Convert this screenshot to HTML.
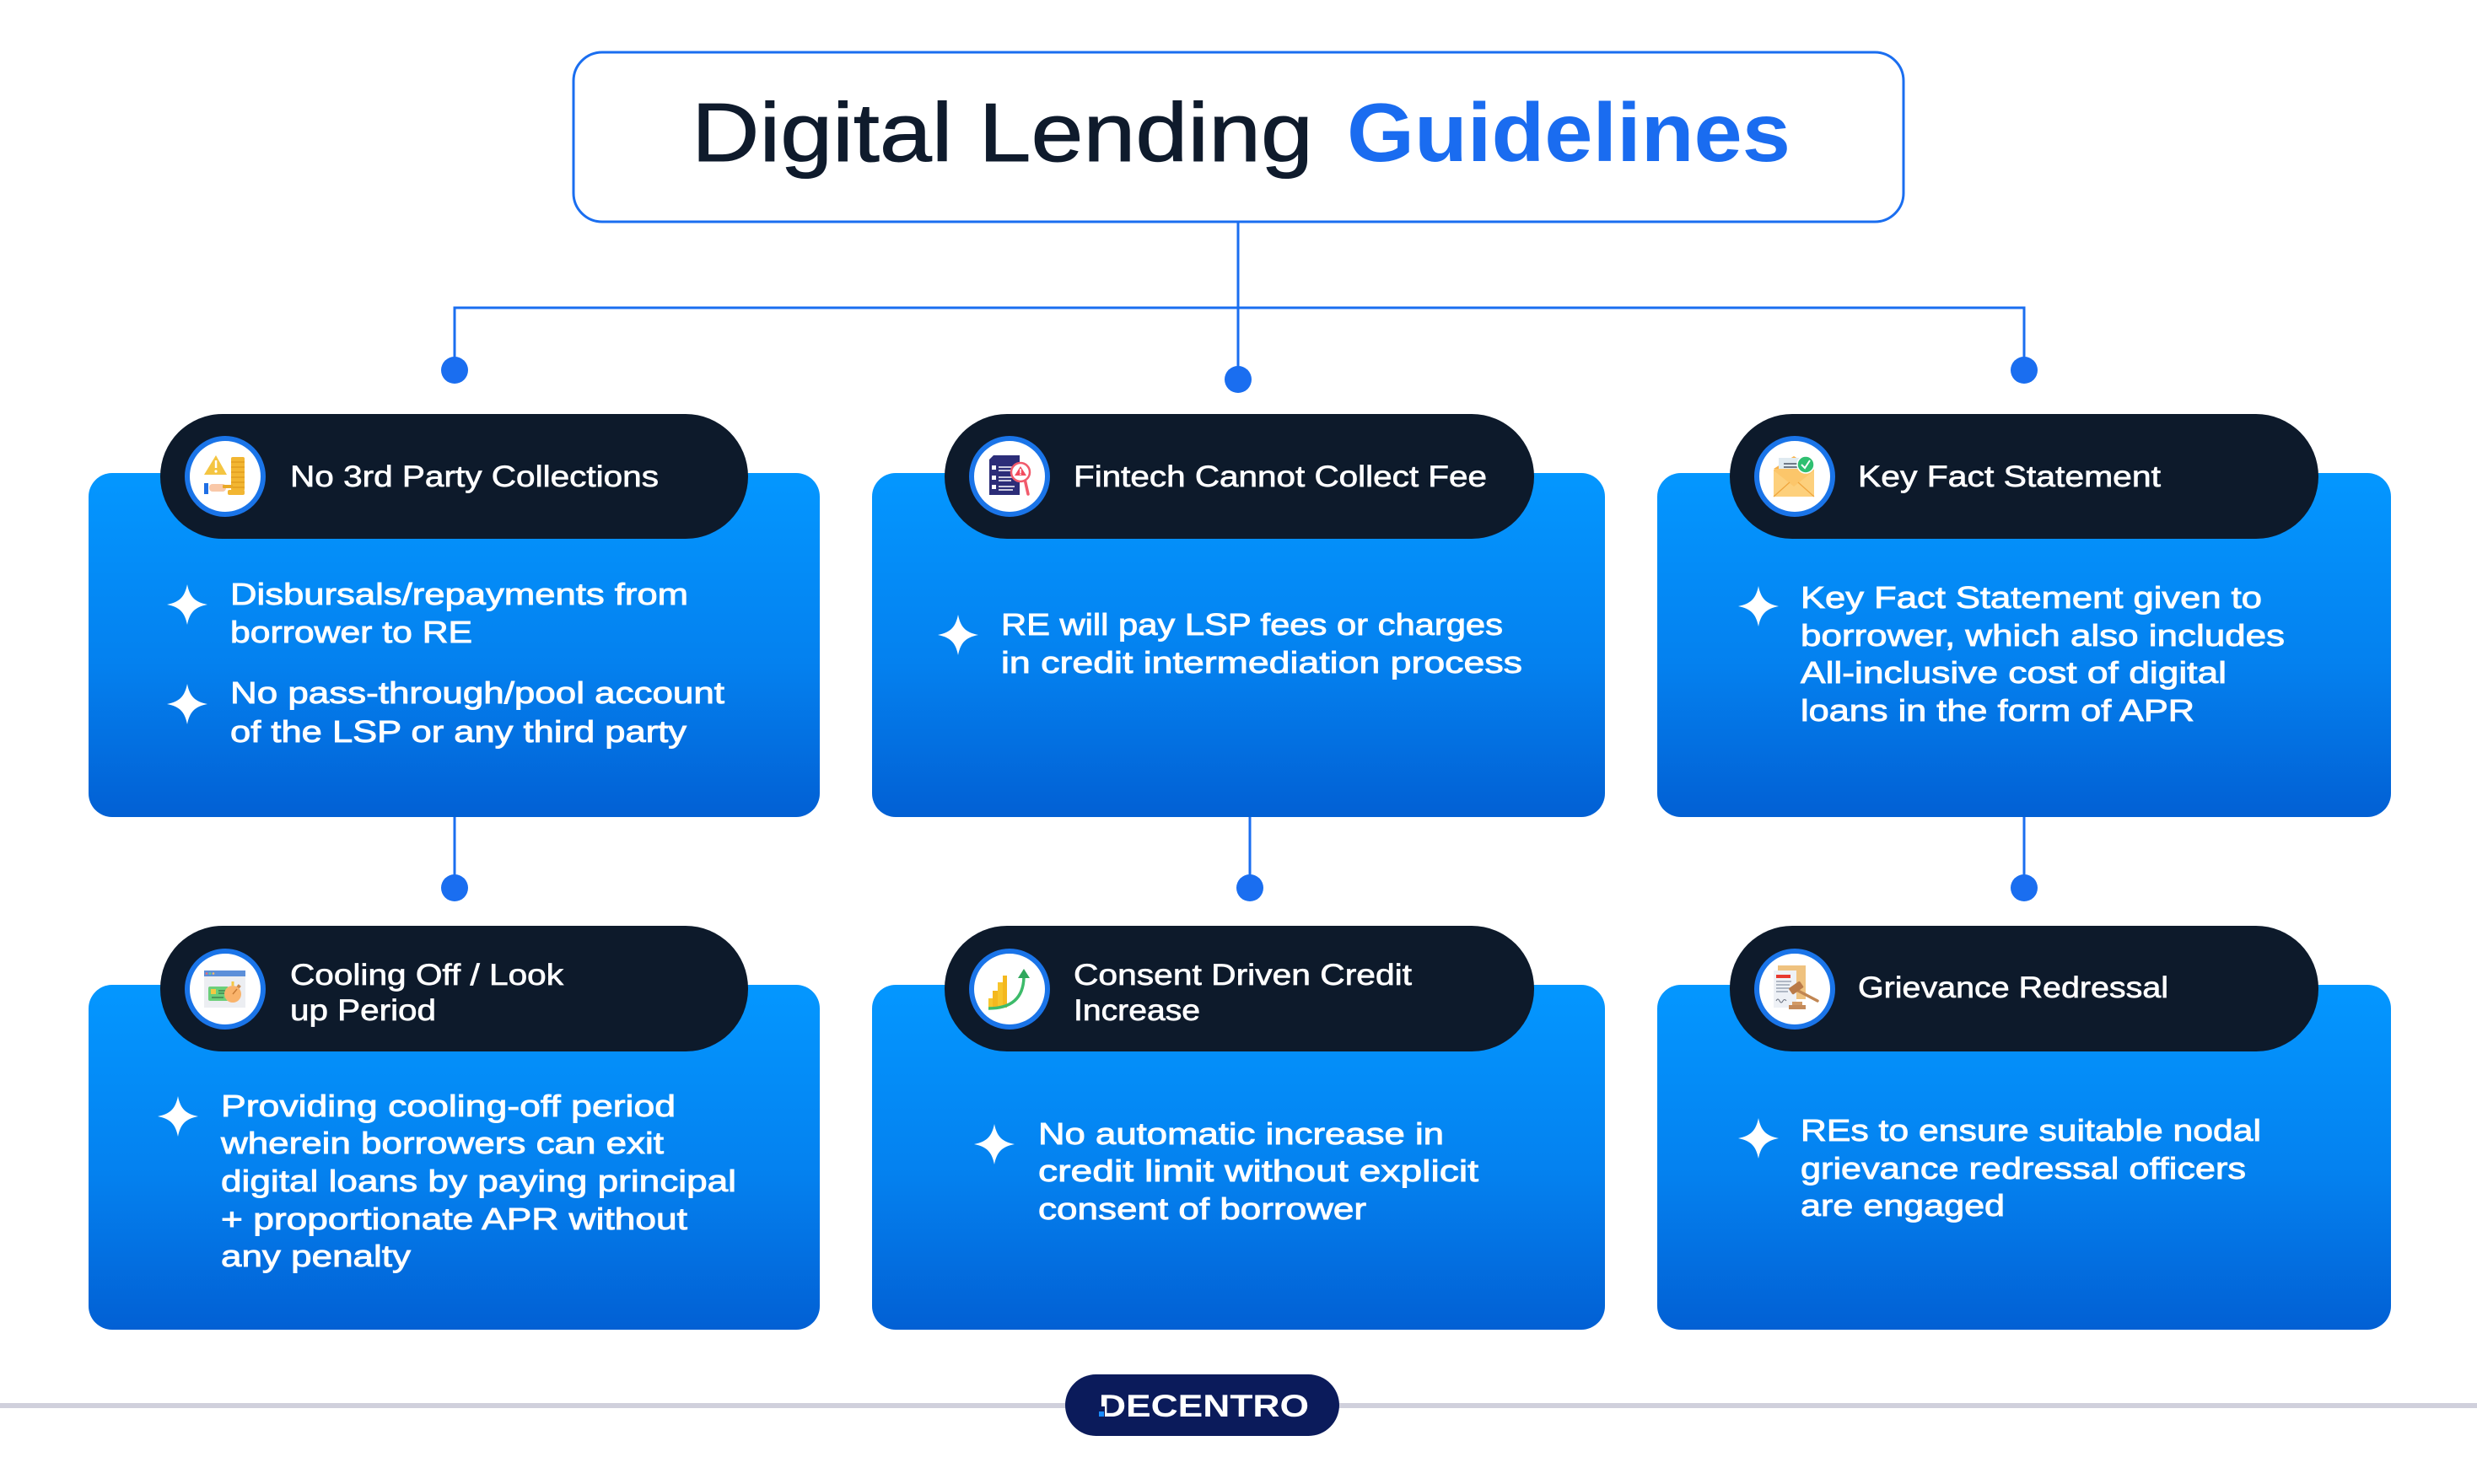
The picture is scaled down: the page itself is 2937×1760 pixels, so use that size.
<!DOCTYPE html>
<html>
<head>
<meta charset="utf-8">
<style>
html,body{margin:0;padding:0;background:#fff;}
svg{display:block;}
.t{font-family:"Liberation Sans",sans-serif;}
.body{font-size:36px;fill:#fff;stroke:#fff;stroke-width:0.9px;}
.pill{font-size:35px;fill:#fff;stroke:#fff;stroke-width:0.7px;}
</style>
</head>
<body>
<svg width="2937" height="1760" viewBox="0 0 2937 1760" xmlns="http://www.w3.org/2000/svg">
<defs>
<linearGradient id="cg" x1="0" y1="0" x2="0" y2="1">
<stop offset="0" stop-color="#0497ff"/>
<stop offset="0.55" stop-color="#0481ef"/>
<stop offset="1" stop-color="#0260d4"/>
</linearGradient>
</defs>
<rect width="2937" height="1760" fill="#fff"/>

<!-- Title -->
<rect x="680" y="62" width="1577" height="201" rx="34" fill="#fff" stroke="#1a6ef0" stroke-width="3"/>
<text class="t" x="820" y="191" font-size="98" fill="#0f1b2c" stroke="#0f1b2c" stroke-width="1" textLength="737" lengthAdjust="spacingAndGlyphs">Digital Lending</text>
<text class="t" x="1597" y="191" font-size="98" font-weight="bold" fill="#1a6cf0" textLength="526" lengthAdjust="spacingAndGlyphs">Guidelines</text>

<!-- Connectors -->
<g stroke="#1a6ef0" stroke-width="3" fill="none">
<path d="M1468,263 V450"/>
<path d="M539,439 V365 H2400 V439"/>
<path d="M539,969 V1053"/>
<path d="M1482,969 V1053"/>
<path d="M2400,969 V1053"/>
</g>
<g fill="#1a6ef0">
<circle cx="539" cy="439" r="16"/>
<circle cx="1468" cy="450" r="16"/>
<circle cx="2400" cy="439" r="16"/>
<circle cx="539" cy="1053" r="16"/>
<circle cx="1482" cy="1053" r="16"/>
<circle cx="2400" cy="1053" r="16"/>
</g>

<!-- Cards -->
<rect x="105" y="561" width="867" height="408" rx="28" fill="url(#cg)"/>
<rect x="1034" y="561" width="869" height="408" rx="28" fill="url(#cg)"/>
<rect x="1965" y="561" width="870" height="408" rx="28" fill="url(#cg)"/>
<rect x="105" y="1168" width="867" height="409" rx="28" fill="url(#cg)"/>
<rect x="1034" y="1168" width="869" height="409" rx="28" fill="url(#cg)"/>
<rect x="1965" y="1168" width="870" height="409" rx="28" fill="url(#cg)"/>

<!-- Pills -->
<g fill="#0d1a2b">
<rect x="190" y="491" width="697" height="148" rx="74"/>
<rect x="1120" y="491" width="699" height="148" rx="74"/>
<rect x="2051" y="491" width="698" height="148" rx="74"/>
<rect x="190" y="1098" width="697" height="149" rx="74"/>
<rect x="1120" y="1098" width="699" height="149" rx="74"/>
<rect x="2051" y="1098" width="698" height="149" rx="74"/>
</g>

<!-- Icon circles -->
<g fill="#fff" stroke="#1a74e8" stroke-width="6">
<circle cx="267" cy="565" r="45"/>
<circle cx="1197" cy="565" r="45"/>
<circle cx="2128" cy="565" r="45"/>
<circle cx="267" cy="1173" r="45"/>
<circle cx="1197" cy="1173" r="45"/>
<circle cx="2128" cy="1173" r="45"/>
</g>

<!-- Icon 1: warning + coins + hand -->
<g transform="translate(267,565)">
<polygon points="-11,-25 -25,-2 2,-2" fill="#f4c542"/>
<rect x="-12.2" y="-19" width="2.5" height="9" fill="#fff"/>
<circle cx="-11" cy="-6" r="1.6" fill="#fff"/>
<rect x="7" y="-23" width="16" height="40" rx="2" fill="#f2b632"/>
<g stroke="#e09a1c" stroke-width="1.2"><path d="M7,-17H23M7,-11H23M7,-5H23M7,1H23M7,7H23M7,13H23"/></g>
<rect x="3" y="16" width="20" height="6" rx="2" fill="#f2b632"/>
<rect x="-19" y="9" width="20" height="9" rx="4" fill="#f9c8a8"/>
<rect x="-3" y="10" width="12" height="4" rx="1" fill="#e9a825"/>
<rect x="-25" y="8" width="5" height="13" fill="#1f6fe5"/>
</g>

<!-- Icon 2: document + magnifier -->
<g transform="translate(1197,565)">
<path d="M-24,-20 L-19,-25 L12,-25 L12,22 L-24,22 Z" fill="#2c2d78"/>
<g fill="#fff"><rect x="-21" y="-13" width="5" height="5"/><rect x="-21" y="-1" width="5" height="5"/><rect x="-21" y="10" width="5" height="5"/></g>
<g stroke="#fff" stroke-width="1.6"><path d="M-13,-11H6M-13,-7H2M-13,1H4M-13,5H2M-13,12H6M-13,16H4"/></g>
<path d="M18,3 L22,21" stroke="#f15a6b" stroke-width="3.5" stroke-linecap="round"/>
<circle cx="13" cy="-5" r="11" fill="#fff" stroke="#f15a6b" stroke-width="2.5"/>
<polygon points="13,-12 6,-1 20,-1" fill="#f24b5e"/>
<rect x="12.2" y="-9" width="1.6" height="5" fill="#fff"/>
<circle cx="13" cy="-2.6" r="0.9" fill="#fff"/>
</g>

<!-- Icon 3: envelope -->
<g transform="translate(2128,565)">
<polygon points="-25,-9 -1,-24 23,-9" fill="#f8b24a"/>
<rect x="-19" y="-22" width="30" height="25" fill="#dfeaf0"/>
<g stroke="#4b5563" stroke-width="1.5"><path d="M-13,-15H5M-13,-11H5M-13,-7H3"/></g>
<rect x="-25" y="-9" width="48" height="33" rx="2" fill="#fcc66a"/>
<path d="M-25,-7 L-1,12 L23,-7 L23,24 L-25,24 Z" fill="#fdd07c"/>
<path d="M-25,24 L-6,7 M23,24 L4,7" stroke="#f0a53c" stroke-width="1.2" fill="none"/>
<circle cx="13" cy="-14" r="10" fill="#2fbf71" stroke="#fff" stroke-width="1.5"/>
<path d="M8,-14 L12,-10 L18,-19" stroke="#fff" stroke-width="2" fill="none"/>
</g>

<!-- Icon 4: browser + card + stopwatch -->
<g transform="translate(267,1173)">
<rect x="-25" y="-22" width="49" height="44" fill="#eceef2"/>
<rect x="-25" y="-22" width="49" height="7" fill="#5c8fd9"/>
<circle cx="-22" cy="-18.5" r="1.3" fill="#f26d6d"/>
<circle cx="-18" cy="-18.5" r="1.3" fill="#6ccf7a"/>
<circle cx="-14" cy="-18.5" r="1.3" fill="#f5b86b"/>
<rect x="-20" y="-3" width="24" height="17" rx="2" fill="#6ccf7a"/>
<rect x="-17" y="0" width="6" height="6" fill="#f5c842"/>
<path d="M-16,10H-2M-8,2H0M-8,5H0" stroke="#2e5e3a" stroke-width="1"/>
<rect x="7.5" y="-9" width="3" height="5" fill="#f5c842"/>
<rect x="14" y="-5" width="4" height="4" transform="rotate(40 16 -3)" fill="#c98b50"/>
<circle cx="9" cy="6" r="10" fill="#f9b36b"/>
<path d="M9,6 L14,0" stroke="#c77a34" stroke-width="1.4"/>
</g>

<!-- Icon 5: chart + arrow -->
<g transform="translate(1197,1173)">
<rect x="-25" y="11" width="5" height="11" fill="#f7c52c"/>
<rect x="-20" y="2" width="6" height="20" fill="#f4b81e"/>
<rect x="-14" y="-8" width="6" height="30" fill="#f7c52c"/>
<rect x="-8" y="-16" width="5" height="38" fill="#f4b81e"/>
<path d="M-25,23 Q16,23 17,-14" stroke="#3dbb6a" stroke-width="3.5" fill="none"/>
<polygon points="17,-24 10,-13 24,-13" fill="#2fa85c"/>
</g>

<!-- Icon 6: document + gavel -->
<g transform="translate(2128,1173)">
<rect x="-20" y="-28" width="33" height="40" fill="#efc27f"/>
<rect x="-25" y="-22" width="27" height="44" fill="#eef1f6"/>
<rect x="-22" y="-17" width="17" height="4" fill="#e8392f"/>
<g stroke="#8a96a8" stroke-width="1.3"><path d="M-22,-9H-4M-22,-5H-6M-22,-1H-4M-22,3H-8"/></g>
<path d="M-22,14 q2,-4 4,0 q2,4 4,0 q2,-3 4,0" stroke="#6b7280" stroke-width="1" fill="none"/>
<path d="M4,2 L27,14" stroke="#c18652" stroke-width="3.5" stroke-linecap="round"/>
<rect x="-6" y="-6" width="16" height="9" rx="1.5" transform="rotate(-35 2 -1)" fill="#b97a48"/>
<rect x="-3" y="15" width="12" height="4" fill="#d29a66"/>
<rect x="-7" y="19" width="20" height="5" fill="#c48a5a"/>
</g>

<!-- Pill titles -->
<g class="t pill">
<text x="344" y="577" textLength="437" lengthAdjust="spacingAndGlyphs">No 3rd Party Collections</text>
<text x="1273" y="577" textLength="490" lengthAdjust="spacingAndGlyphs">Fintech Cannot Collect Fee</text>
<text x="2203" y="577" textLength="359" lengthAdjust="spacingAndGlyphs">Key Fact Statement</text>
<text x="344" y="1168" textLength="324" lengthAdjust="spacingAndGlyphs">Cooling Off / Look</text>
<text x="344" y="1210" textLength="173" lengthAdjust="spacingAndGlyphs">up Period</text>
<text x="1273" y="1168" textLength="401" lengthAdjust="spacingAndGlyphs">Consent Driven Credit</text>
<text x="1273" y="1210" textLength="150" lengthAdjust="spacingAndGlyphs">Increase</text>
<text x="2203" y="1183" textLength="368" lengthAdjust="spacingAndGlyphs">Grievance Redressal</text>
</g>

<!-- Sparkles -->
<g fill="#fff">
<path transform="translate(222,717)" d="M0,-24 C3,-9 9,-3 24,0 C9,3 3,9 0,24 C-3,9 -9,3 -24,0 C-9,-3 -3,-9 0,-24 Z"/>
<path transform="translate(222,835)" d="M0,-24 C3,-9 9,-3 24,0 C9,3 3,9 0,24 C-3,9 -9,3 -24,0 C-9,-3 -3,-9 0,-24 Z"/>
<path transform="translate(1136,753)" d="M0,-24 C3,-9 9,-3 24,0 C9,3 3,9 0,24 C-3,9 -9,3 -24,0 C-9,-3 -3,-9 0,-24 Z"/>
<path transform="translate(2085,719)" d="M0,-24 C3,-9 9,-3 24,0 C9,3 3,9 0,24 C-3,9 -9,3 -24,0 C-9,-3 -3,-9 0,-24 Z"/>
<path transform="translate(211,1324)" d="M0,-24 C3,-9 9,-3 24,0 C9,3 3,9 0,24 C-3,9 -9,3 -24,0 C-9,-3 -3,-9 0,-24 Z"/>
<path transform="translate(1179,1357)" d="M0,-24 C3,-9 9,-3 24,0 C9,3 3,9 0,24 C-3,9 -9,3 -24,0 C-9,-3 -3,-9 0,-24 Z"/>
<path transform="translate(2085,1350)" d="M0,-24 C3,-9 9,-3 24,0 C9,3 3,9 0,24 C-3,9 -9,3 -24,0 C-9,-3 -3,-9 0,-24 Z"/>
</g>

<!-- Body text -->
<g class="t body">
<text x="273" y="717" textLength="543" lengthAdjust="spacingAndGlyphs">Disbursals/repayments from</text>
<text x="273" y="762" textLength="287" lengthAdjust="spacingAndGlyphs">borrower to RE</text>
<text x="273" y="834" textLength="586" lengthAdjust="spacingAndGlyphs">No pass-through/pool account</text>
<text x="273" y="880" textLength="541" lengthAdjust="spacingAndGlyphs">of the LSP or any third party</text>

<text x="1187" y="753" textLength="595" lengthAdjust="spacingAndGlyphs">RE will pay LSP fees or charges</text>
<text x="1187" y="798" textLength="618" lengthAdjust="spacingAndGlyphs">in credit intermediation process</text>

<text x="2135" y="721" textLength="547" lengthAdjust="spacingAndGlyphs">Key Fact Statement given to</text>
<text x="2135" y="766" textLength="574" lengthAdjust="spacingAndGlyphs">borrower, which also includes</text>
<text x="2135" y="810" textLength="505" lengthAdjust="spacingAndGlyphs">All-inclusive cost of digital</text>
<text x="2135" y="855" textLength="467" lengthAdjust="spacingAndGlyphs">loans in the form of APR</text>

<text x="262" y="1324" textLength="539" lengthAdjust="spacingAndGlyphs">Providing cooling-off period</text>
<text x="262" y="1368" textLength="525" lengthAdjust="spacingAndGlyphs">wherein borrowers can exit</text>
<text x="262" y="1413" textLength="611" lengthAdjust="spacingAndGlyphs">digital loans by paying principal</text>
<text x="262" y="1458" textLength="553" lengthAdjust="spacingAndGlyphs">+ proportionate APR without</text>
<text x="262" y="1502" textLength="225" lengthAdjust="spacingAndGlyphs">any penalty</text>

<text x="1231" y="1357" textLength="481" lengthAdjust="spacingAndGlyphs">No automatic increase in</text>
<text x="1231" y="1401" textLength="522" lengthAdjust="spacingAndGlyphs">credit limit without explicit</text>
<text x="1231" y="1446" textLength="389" lengthAdjust="spacingAndGlyphs">consent of borrower</text>

<text x="2135" y="1353" textLength="546" lengthAdjust="spacingAndGlyphs">REs to ensure suitable nodal</text>
<text x="2135" y="1398" textLength="528" lengthAdjust="spacingAndGlyphs">grievance redressal officers</text>
<text x="2135" y="1442" textLength="242" lengthAdjust="spacingAndGlyphs">are engaged</text>
</g>

<!-- Footer -->
<rect x="0" y="1664" width="2937" height="6" fill="#d0d0dc"/>
<rect x="1263" y="1630" width="325" height="73" rx="36.5" fill="#0b1b5b"/>
<text class="t" x="1303" y="1680" font-size="37" font-weight="bold" fill="#fff" textLength="249" lengthAdjust="spacingAndGlyphs">DECENTRO</text>
<rect x="1302" y="1668" width="8" height="14" fill="#0b1b5b"/>
<rect x="1303" y="1674" width="6" height="6" fill="#1a8cff"/>
</svg>
</body>
</html>
